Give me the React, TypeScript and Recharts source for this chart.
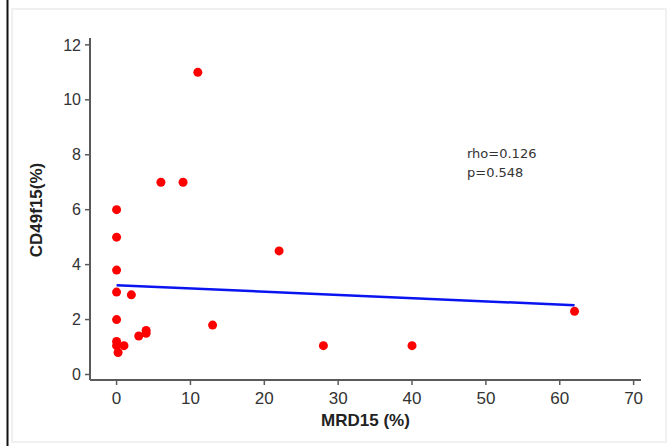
import React from "react";
import { ScatterChart, Scatter, XAxis, YAxis } from "recharts";

const mrd15 = [11, 6, 9, 0, 0, 0, 0, 2, 0, 0, 0, 1, 0.2, 3, 4, 4, 13, 22, 28, 40, 62];
const cd49f15 = [11, 7, 7, 6, 5, 3.8, 3, 2.9, 2, 1.2, 1.05, 1.05, 0.8, 1.4, 1.6, 1.5, 1.8, 4.5, 1.05, 1.05, 2.3];
const fitX = [0, 62];
const fitY = [3.25, 2.52];
const xTicks = [0, 10, 20, 30, 40, 50, 60, 70];
const yTicks = [0, 2, 4, 6, 8, 10, 12];
const statsLines = ["rho=0.126", "p=0.548"];
const xTitle = "MRD15 (%)";
const yTitle = "CD49f15(%)";

const points = mrd15.map((x, i) => ({ x, y: cd49f15[i] }));
const fit = fitX.map((x, i) => ({ x, y: fitY[i] }));

const axisColor = "#5a5a5a";
const tickFont = "'Liberation Sans', Arial, sans-serif";

const Dot = (props: any) => {
  const { cx, cy } = props;
  if (cx == null || cy == null) return <g />;
  return <circle cx={cx} cy={cy} r={4.5} fill="#ff0000" />;
};

const NoDot = () => <g />;

export default function App() {
  return (
    <div style={{ position: "absolute", top: 0, left: 0, width: 668, height: 446, background: "#fff" }}>
      <svg width={668} height={446} style={{ position: "absolute", top: 0, left: 0 }}>
        <rect x={12} y={9} width={654} height={433} fill="none" stroke="#ececec" strokeWidth={1.5} />
        <line x1={7.5} y1={0} x2={7.5} y2={446} stroke="#111" strokeWidth={2} />
      </svg>
      <div style={{ position: "absolute", top: 0, left: 0 }}>
        <ScatterChart width={668} height={446} margin={{ top: 38, right: 27, bottom: 16, left: 20 }}>
          <XAxis
            type="number"
            dataKey="x"
            domain={[-3.6, 71]}
            ticks={xTicks}
            allowDataOverflow
            interval={0}
            stroke={axisColor}
            axisLine={{ stroke: axisColor, strokeWidth: 2 }}
            tickLine={{ stroke: axisColor, strokeWidth: 1.5 }}
            tickSize={5}
            tickMargin={7}
            height={50}
            tick={{ fill: "#333", fontSize: 17, fontFamily: tickFont }}
          />
          <YAxis
            type="number"
            dataKey="y"
            domain={[-0.2, 12.25]}
            ticks={yTicks}
            allowDataOverflow
            interval={0}
            stroke={axisColor}
            axisLine={{ stroke: axisColor, strokeWidth: 2 }}
            tickLine={{ stroke: axisColor, strokeWidth: 1.5 }}
            tickSize={5}
            tickMargin={4}
            width={70}
            tick={{ fill: "#333", fontSize: 16, fontFamily: tickFont }}
          />
          <Scatter data={points} shape={Dot} isAnimationActive={false} />
          <Scatter
            data={fit}
            shape={NoDot}
            line={{ stroke: "#0a14f0", strokeWidth: 2.5 }}
            isAnimationActive={false}
          />
          <text x={467} y={158} fontSize={13} fontFamily="'DejaVu Sans', sans-serif" fill="#333">
            {statsLines[0]}
          </text>
          <text x={467} y={177} fontSize={13} fontFamily="'DejaVu Sans', sans-serif" fill="#333">
            {statsLines[1]}
          </text>
          <text x={365.5} y={426} textAnchor="middle" fontSize={17} fontWeight="bold" fontFamily={tickFont} fill="#222">
            {xTitle}
          </text>
          <text
            x={42}
            y={210}
            textAnchor="middle"
            fontSize={17}
            fontWeight="bold"
            fontFamily={tickFont}
            fill="#222"
            transform="rotate(-90, 42, 210)"
          >
            {yTitle}
          </text>
        </ScatterChart>
      </div>
    </div>
  );
}
